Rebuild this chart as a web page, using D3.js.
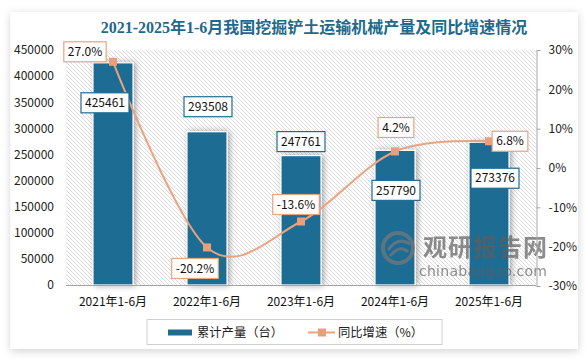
<!DOCTYPE html>
<html><head><meta charset="utf-8">
<script src="https://cdn.jsdelivr.net/npm/d3@7"></script>
<style>body{margin:0;background:#fff;}svg{display:block;}</style>
</head><body>
<svg id="c" width="586" height="359"></svg>
<script>
const categories = ["2021年1-6月","2022年1-6月","2023年1-6月","2024年1-6月","2025年1-6月"];
const production = [425461, 293508, 247761, 257790, 273376];
const growth = [27.0, -20.2, -13.6, 4.2, 6.8];
const leftTicks = [0,50000,100000,150000,200000,250000,300000,350000,400000,450000];
const rightTicks = [-30,-20,-10,0,10,20,30];
// label layout offsets (px) relative to the bar top / marker
const barLabelOffset = [[-8,40],[1,-25],[0,-14],[1,40],[6,36]];
const pctLabelOffset = [[-28,-10],[-12,21],[-5,-17],[1,-24],[21,0]];

const svg = d3.select("#c");
const M = {l:66, r:536, t:50, b:285};
const barColor = "#1F6C93", lineColor = "#EBA27F", titleColor = "#1E6A8D";
const font = "'Noto Sans CJK SC','Noto Sans',sans-serif";

const defs = svg.append("defs");
const f1 = defs.append("filter").attr("id","cardShadow").attr("x","-5%").attr("y","-5%").attr("width","110%").attr("height","112%");
f1.append("feDropShadow").attr("dx",0).attr("dy",2).attr("stdDeviation",4).attr("flood-color","#000").attr("flood-opacity",0.18);
const f2 = defs.append("filter").attr("id","barShadow").attr("x","-40%").attr("y","-10%").attr("width","180%").attr("height","120%");
f2.append("feDropShadow").attr("dx",2).attr("dy",0).attr("stdDeviation",3).attr("flood-color","#000").attr("flood-opacity",0.35);
const pat = defs.append("pattern").attr("id","hatch").attr("patternUnits","userSpaceOnUse").attr("width",4).attr("height",4);
pat.append("rect").attr("width",4).attr("height",4).attr("fill","#fff");
pat.append("path").attr("d","M-1,-1 L5,5 M-1,3 L1,5 M3,-1 L5,1").attr("stroke","#d4d4d4").attr("stroke-width",0.8);

// card
svg.append("rect").attr("x",10.5).attr("y",12).attr("width",567.5).attr("height",337).attr("fill","#fff").attr("filter","url(#cardShadow)");

// title
svg.append("text").attr("x",314).attr("y",33).attr("text-anchor","middle")
  .attr("font-family","'Liberation Serif','DejaVu Serif','Noto Sans CJK SC',serif").attr("font-weight","bold")
  .attr("font-size",16).attr("fill",titleColor)
  .text("2021-2025年1-6月我国挖掘铲土运输机械产量及同比增速情况");

// plot background
svg.append("rect").attr("x",M.l).attr("y",M.t).attr("width",M.r-M.l).attr("height",M.b-M.t).attr("fill","url(#hatch)");

const x = d3.scaleBand().domain(categories).range([M.l,M.r]).paddingInner(0.574).paddingOuter(0.287);
const yL = d3.scaleLinear().domain([0,450000]).range([M.b,M.t]);
const yR = d3.scaleLinear().domain([-30,30]).range([M.b+1,M.t]);

// bars
svg.append("g").selectAll("rect").data(production).join("rect")
  .attr("x",(d,i)=>x(categories[i])).attr("y",d=>yL(d))
  .attr("width",x.bandwidth()).attr("height",d=>yL(0)-yL(d))
  .attr("fill",barColor).attr("stroke","#fff").attr("stroke-width",1.2)
  .attr("filter","url(#barShadow)");

// watermark
const wm = svg.append("g").attr("opacity",0.7);
wm.append("circle").attr("cx",398).attr("cy",248).attr("r",15).attr("fill","none").attr("stroke","#7a7a7a").attr("stroke-width",4);
wm.append("path").attr("d","M388,250 Q398,236 410,244 M390,256 Q400,244 408,252").attr("fill","none").attr("stroke","#7a7a7a").attr("stroke-width",3);
wm.append("text").attr("x",423).attr("y",256).attr("font-family",font).attr("font-weight","bold").attr("font-size",24).attr("fill","#5e5e5e").attr("textLength",124).text("观研报告网");
wm.append("text").attr("x",419).attr("y",276).attr("font-family","'DejaVu Sans',sans-serif").attr("font-size",14).attr("fill","#5e5e5e").attr("textLength",128).text("chinabaogao.com");

// bottom axis line
svg.append("line").attr("x1",M.l).attr("x2",M.r).attr("y1",M.b+0.5).attr("y2",M.b+0.5).attr("stroke","#a6a6a6").attr("stroke-width",1);

// left axis
const gl = svg.append("g").attr("transform",`translate(${M.l},0)`)
  .call(d3.axisLeft(yL).tickValues(leftTicks).tickSize(0).tickPadding(12).tickFormat(d3.format("d")));
gl.select(".domain").remove();
gl.selectAll("text").attr("font-family",font).attr("font-size",12).attr("fill","#222");

// right axis
const gr = svg.append("g").attr("transform",`translate(${M.r+0.5},0)`)
  .call(d3.axisRight(yR).tickValues(rightTicks).tickSize(4).tickPadding(8).tickFormat(d=>d+"%"));
gr.select(".domain").attr("stroke","#a6a6a6");
gr.selectAll(".tick line").attr("stroke","#a6a6a6");
gr.selectAll("text").attr("font-family",font).attr("font-size",12).attr("fill","#222");

// x labels
svg.append("g").selectAll("text").data(categories).join("text")
  .attr("x",d=>x(d)+x.bandwidth()/2).attr("y",306).attr("text-anchor","middle")
  .attr("font-family",font).attr("font-size",12).attr("fill","#111").text(d=>d);

// line
const pts = growth.map((g,i)=>[x(categories[i])+x.bandwidth()/2, yR(g)]);
svg.append("path").attr("d",d3.line().curve(d3.curveCardinal.tension(0))(pts))
  .attr("fill","none").attr("stroke",lineColor).attr("stroke-width",2);
svg.append("g").selectAll("rect").data(pts).join("rect")
  .attr("x",d=>d[0]-4).attr("y",d=>d[1]-4).attr("width",8).attr("height",8).attr("fill","#E99F7C");

// labels
function labelBox(cx, cy, txt, stroke){
  const g = svg.append("g");
  const t = g.append("text").attr("x",cx).attr("y",cy+4.2).attr("text-anchor","middle")
    .attr("font-family",font).attr("font-size",12).attr("fill","#111").text(txt);
  const w = t.node().getComputedTextLength()+8;
  g.insert("rect","text").attr("x",cx-w/2).attr("y",cy-10).attr("width",w).attr("height",20)
    .attr("fill","#fff").attr("stroke",stroke).attr("stroke-width",1.2);
}
production.forEach((v,i)=>{
  labelBox(x(categories[i])+x.bandwidth()/2+barLabelOffset[i][0], yL(v)+barLabelOffset[i][1], String(v), barColor);
});
growth.forEach((g,i)=>{
  labelBox(pts[i][0]+pctLabelOffset[i][0], pts[i][1]+pctLabelOffset[i][1], g.toFixed(1)+"%", lineColor);
});

// legend
const lg = svg.append("g");
lg.append("rect").attr("x",147).attr("y",319.5).attr("width",295).attr("height",25).attr("fill","#fff").attr("stroke","#d0d0d0");
lg.append("rect").attr("x",168).attr("y",329.5).attr("width",24).attr("height",6).attr("fill",barColor);
lg.append("text").attr("x",197).attr("y",337).attr("font-family",font).attr("font-size",12.3).attr("fill","#222").text("累计产量（台）");
lg.append("line").attr("x1",308).attr("x2",335).attr("y1",332.5).attr("y2",332.5).attr("stroke",lineColor).attr("stroke-width",2);
lg.append("rect").attr("x",318).attr("y",328.5).attr("width",8).attr("height",8).attr("fill","#E99F7C");
lg.append("text").attr("x",338).attr("y",337).attr("font-family",font).attr("font-size",12.3).attr("fill","#222").text("同比增速（%）");
</script>
</body></html>
